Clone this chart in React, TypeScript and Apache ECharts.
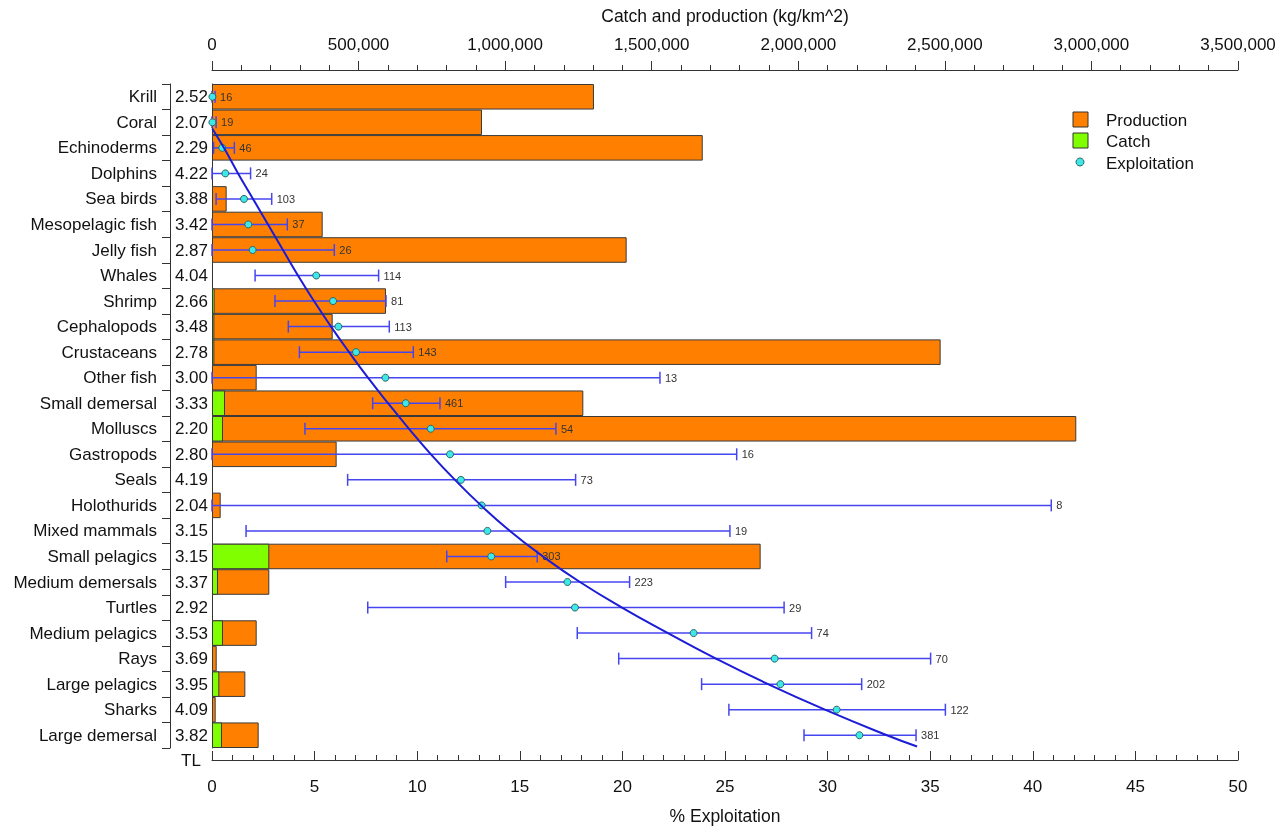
import React, { useEffect, useRef } from "react";
import * as echarts from "echarts";

const groups = [
  "Krill", "Coral", "Echinoderms", "Dolphins", "Sea birds", "Mesopelagic fish", "Jelly fish",
  "Whales", "Shrimp", "Cephalopods", "Crustaceans", "Other fish", "Small demersal", "Molluscs",
  "Gastropods", "Seals", "Holothurids", "Mixed mammals", "Small pelagics", "Medium demersals",
  "Turtles", "Medium pelagics", "Rays", "Large pelagics", "Sharks", "Large demersal",
];
const trophicLevel = [
  2.52, 2.07, 2.29, 4.22, 3.88, 3.42, 2.87, 4.04, 2.66, 3.48, 2.78, 3.0, 3.33, 2.2,
  2.8, 4.19, 2.04, 3.15, 3.15, 3.37, 2.92, 3.53, 3.69, 3.95, 4.09, 3.82,
];
const production = [
  1303000, 921000, 1674000, 0, 50000, 377600, 1414500, 0, 593500, 411700, 2485600, 152400,
  1266700, 2948300, 425200, 0, 29600, 0, 1871600, 195500, 0, 152400, 16000, 113700, 12500, 159200,
];
const catchValues = [
  0, 0, 0, 0, 0, 0, 0, 0, 9000, 8000, 8000, 0, 44300, 37500, 0, 0, 0, 0, 195500, 20500,
  0, 37500, 0, 25000, 0, 34000,
];
const exploitation = [
  0.02, 0.02, 0.5, 0.65, 1.56, 1.77, 1.98, 5.08, 5.9, 6.16, 7.02, 8.45, 9.44, 10.66,
  11.6, 12.13, 13.14, 13.42, 13.61, 17.32, 17.69, 23.47, 27.42, 27.7, 30.44, 31.55,
];
const exploitLow = [
  0, 0, 0.08, 0, 0.2, 0, 0, 2.1, 3.07, 3.72, 4.26, 0, 7.83, 4.53,
  0, 6.61, 0, 1.66, 11.44, 14.31, 7.59, 17.8, 19.82, 23.86, 25.19, 28.85,
];
const exploitHigh = [
  0.15, 0.2, 1.09, 1.88, 2.91, 3.67, 5.96, 8.12, 8.48, 8.64, 9.81, 21.83, 11.11, 16.76,
  25.57, 17.72, 40.9, 25.24, 15.85, 20.35, 27.88, 29.22, 35.02, 31.66, 35.74, 34.31,
];
const sampleSize = [
  16, 19, 46, 24, 103, 37, 26, 114, 81, 113, 143, 13, 461, 54,
  16, 73, 8, 19, 303, 223, 29, 74, 70, 202, 122, 381,
];
// fitted curve (x in % exploitation, y in row index)
const curveExp = [
  0.02, 0.58, 1.27, 2.0, 2.73, 3.46, 4.19, 4.97, 5.8, 6.68, 7.6, 8.58, 9.6, 10.67,
  11.84, 13.11, 14.52, 16.13, 17.93, 19.98, 22.22, 24.56, 27.1, 29.87, 32.89, 34.36,
];
const curveRow = [
  1.25, 2, 3, 4, 5, 6, 7, 8, 9, 10, 11, 12, 13, 14,
  15, 16, 17, 18, 19, 20, 21, 22, 23, 24, 25, 25.44,
];

const FONT = '"Liberation Sans", Arial, sans-serif';
const AXIS = "#333";
const TEXT = "#111";
const FS = 17;

export default function App() {
  const ref = useRef<HTMLDivElement>(null);
  useEffect(() => {
    if (!ref.current) return;
    const chart = echarts.init(ref.current, null, { renderer: "svg" });
    const errData = groups.map((_, i) => [exploitLow[i], exploitHigh[i], i, sampleSize[i]]);
    const option: any = {
      animation: false,
      textStyle: { fontFamily: FONT },
      grid: { left: 212, right: 49, top: 84, bottom: 80 },
      xAxis: [
        {
          type: "value",
          position: "top",
          min: 0,
          max: 3500000,
          interval: 500000,
          offset: 14,
          name: "Catch and production (kg/km^2)",
          nameLocation: "middle",
          nameGap: 45,
          nameTextStyle: { fontSize: 17.5, color: TEXT, fontFamily: FONT },
          axisLine: { show: true, onZero: false, lineStyle: { color: AXIS } },
          axisTick: { show: true, length: 9, lineStyle: { color: AXIS } },
          minorTick: { show: true, splitNumber: 5, length: 5, lineStyle: { color: AXIS } },
          splitLine: { show: false },
          axisLabel: {
            formatter: (v: number) => v.toLocaleString("en-US"),
            fontSize: FS,
            color: TEXT,
            margin: 17,
            fontFamily: FONT,
          },
        },
        {
          type: "value",
          position: "bottom",
          min: 0,
          max: 50,
          interval: 5,
          offset: 12,
          name: "% Exploitation",
          nameLocation: "middle",
          nameGap: 47,
          nameTextStyle: { fontSize: 17.5, color: TEXT, fontFamily: FONT },
          axisLine: { show: true, onZero: false, lineStyle: { color: AXIS } },
          axisTick: { show: true, inside: true, length: 9, lineStyle: { color: AXIS } },
          minorTick: { show: true, splitNumber: 5, length: 5, lineStyle: { color: AXIS } },
          splitLine: { show: false },
          axisLabel: { fontSize: FS, color: TEXT, margin: 18, fontFamily: FONT },
        },
      ],
      yAxis: [
        {
          type: "category",
          data: groups,
          inverse: true,
          position: "left",
          offset: 42,
          axisLine: { show: true, onZero: false, lineStyle: { color: AXIS } },
          axisTick: { show: true, length: 8, interval: 0, lineStyle: { color: AXIS } },
          axisLabel: { interval: 0, margin: 13, fontSize: FS, color: TEXT, fontFamily: FONT },
          splitLine: { show: false },
        },
        {
          type: "category",
          data: trophicLevel.map((t) => t.toFixed(2)),
          inverse: true,
          position: "left",
          offset: 0,
          axisLine: { show: true, onZero: false, lineStyle: { color: AXIS } },
          axisTick: { show: false },
          axisLabel: { interval: 0, margin: 4, fontSize: FS, color: TEXT, fontFamily: FONT },
          splitLine: { show: false },
        },
        { type: "value", min: -0.5, max: 25.5, inverse: true, show: false },
      ],
      series: [
        {
          name: "Production",
          type: "bar",
          xAxisIndex: 0,
          yAxisIndex: 0,
          data: production.map((v) => (v > 0 ? v : "-")),
          barCategoryGap: "0%",
          barGap: "-100%",
          itemStyle: { color: "#ff8000", borderColor: "#3a3a3a", borderWidth: 1 },
        },
        {
          name: "Catch",
          type: "bar",
          xAxisIndex: 0,
          yAxisIndex: 0,
          data: catchValues.map((v) => (v > 0 ? v : "-")),
          barCategoryGap: "0%",
          barGap: "-100%",
          itemStyle: { color: "#80ff00", borderColor: "#3a3a3a", borderWidth: 1 },
        },
        {
          name: "Error",
          type: "custom",
          xAxisIndex: 1,
          yAxisIndex: 2,
          data: errData,
          z: 3,
          renderItem: (params: any, api: any) => {
            const lo = api.coord([api.value(0), api.value(2)]);
            const hi = api.coord([api.value(1), api.value(2)]);
            const h = 6;
            const ls = { stroke: "#4646f0", lineWidth: 1.5 };
            return {
              type: "group",
              children: [
                { type: "line", shape: { x1: lo[0], y1: lo[1], x2: hi[0], y2: hi[1] }, style: ls },
                { type: "line", shape: { x1: lo[0], y1: lo[1] - h, x2: lo[0], y2: lo[1] + h }, style: ls },
                { type: "line", shape: { x1: hi[0], y1: hi[1] - h, x2: hi[0], y2: hi[1] + h }, style: ls },
                {
                  type: "text",
                  x: hi[0] + 5,
                  y: hi[1],
                  style: {
                    text: String(api.value(3)),
                    fill: "#333",
                    font: `11px ${FONT}`,
                    verticalAlign: "middle",
                    align: "left",
                  },
                },
              ],
            };
          },
        },
        {
          name: "Exploitation",
          type: "scatter",
          xAxisIndex: 1,
          yAxisIndex: 2,
          z: 4,
          data: exploitation.map((v, i) => [v, i]),
          symbol: "circle",
          symbolSize: 7,
          itemStyle: { color: "#3ee8e8", borderColor: "#2d6666", borderWidth: 1, opacity: 1 },
        },
        {
          name: "Trend",
          type: "line",
          xAxisIndex: 1,
          yAxisIndex: 2,
          z: 5,
          data: curveExp.map((v, i) => [v, curveRow[i]]),
          smooth: true,
          showSymbol: false,
          symbol: "none",
          lineStyle: { color: "#1c1cd6", width: 2 },
        },
      ],
      graphic: [
        { type: "rect", shape: { x: 1073, y: 112, width: 15, height: 15 }, style: { fill: "#ff8000", stroke: "#333", lineWidth: 1 } },
        { type: "rect", shape: { x: 1073, y: 133, width: 15, height: 15 }, style: { fill: "#80ff00", stroke: "#333", lineWidth: 1 } },
        { type: "circle", shape: { cx: 1080, cy: 162, r: 4 }, style: { fill: "#3ee8e8", stroke: "#2d6666", lineWidth: 1 } },
        { type: "text", x: 1106, y: 120, style: { text: "Production", font: `${FS}px ${FONT}`, fill: TEXT, verticalAlign: "middle" } },
        { type: "text", x: 1106, y: 141, style: { text: "Catch", font: `${FS}px ${FONT}`, fill: TEXT, verticalAlign: "middle" } },
        { type: "text", x: 1106, y: 163, style: { text: "Exploitation", font: `${FS}px ${FONT}`, fill: TEXT, verticalAlign: "middle" } },
        { type: "text", x: 181, y: 760, style: { text: "TL", font: `${FS}px ${FONT}`, fill: TEXT, verticalAlign: "middle" } },
      ],
    };
    chart.setOption(option);
    return () => chart.dispose();
  }, []);
  return <div ref={ref} style={{ position: "fixed", left: 0, top: 0, width: 1287, height: 830 }} />;
}
